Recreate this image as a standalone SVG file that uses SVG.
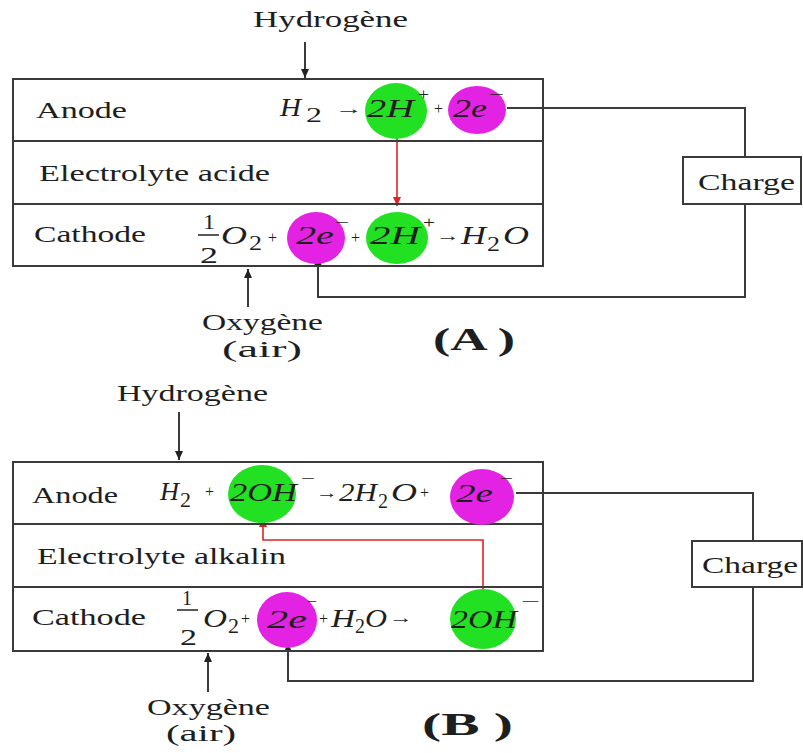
<svg xmlns="http://www.w3.org/2000/svg" width="803" height="753" viewBox="0 0 803 753">
<style>
text{font-family:"Liberation Serif","Times New Roman",serif;fill:#1e1e1e}
.l{font-size:24px}
.m{font-size:26px;font-style:italic}
.s{font-size:20px}
.o{font-size:16px}
.b{font-size:32px;font-weight:bold}
.box{fill:none;stroke:#3a3a3a;stroke-width:2}
.w{fill:none;stroke:#3a3a3a;stroke-width:2}
.r{fill:none;stroke:#e02424;stroke-width:1.6}
.g{fill:#22e022}
.p{fill:#e322e3}
.ch{fill:#fff;stroke:#3a3a3a;stroke-width:2}
</style>
<defs>
<marker id="ak" markerUnits="userSpaceOnUse" markerWidth="9" markerHeight="8" refX="9" refY="4" orient="auto"><path d="M0,0L9,4L0,8z" fill="#222"/></marker>
<marker id="ar" markerUnits="userSpaceOnUse" markerWidth="9" markerHeight="8" refX="9" refY="4" orient="auto"><path d="M0,0L9,4L0,8z" fill="#e02424"/></marker>
</defs>

<g id="connectors">
<path class="w" d="M305,42V78" marker-end="url(#ak)"/>
<path class="w" d="M248,307V269" marker-end="url(#ak)"/>
<path class="w" d="M507,108H745V297H318V257" marker-end="url(#ak)"/>
<path class="r" d="M397,137V206" marker-end="url(#ar)"/>
<path class="w" d="M179,412V460" marker-end="url(#ak)"/>
<path class="w" d="M208,692V653" marker-end="url(#ak)"/>
<path class="w" d="M516,493H753V681H288V643" marker-end="url(#ak)"/>
<path class="r" d="M483,590V540H263V518" marker-end="url(#ar)"/>
</g>

<g id="cellA">
<rect class="box" x="13" y="79" width="530" height="187"/>
<path class="box" d="M13,141H543M13,204H543"/>
<text class="l" x="36" y="118" textLength="91" lengthAdjust="spacingAndGlyphs">Anode</text>
<text class="l" x="39" y="181" textLength="231" lengthAdjust="spacingAndGlyphs">Electrolyte acide</text>
<text class="l" x="34" y="242" textLength="112" lengthAdjust="spacingAndGlyphs">Cathode</text>
</g>

<g id="anodeA">
<ellipse class="g" cx="396" cy="111" rx="31" ry="28"/>
<ellipse class="p" cx="477" cy="110" rx="29" ry="24"/>
<text class="m" x="280" y="116" textLength="21" lengthAdjust="spacingAndGlyphs">H</text>
<text class="s" x="306" y="122" textLength="16" lengthAdjust="spacingAndGlyphs">2</text>
<text class="o" x="335" y="114" textLength="28" lengthAdjust="spacingAndGlyphs">→</text>
<text class="m" x="367" y="117" textLength="47" lengthAdjust="spacingAndGlyphs">2H</text>
<text class="o" x="418" y="100" textLength="11" lengthAdjust="spacingAndGlyphs">+</text>
<text class="o" x="434" y="114" textLength="9" lengthAdjust="spacingAndGlyphs">+</text>
<text class="m" x="453" y="117" textLength="34" lengthAdjust="spacingAndGlyphs">2e</text>
<text class="o" x="489" y="100" textLength="15" lengthAdjust="spacingAndGlyphs">−</text>
</g>

<g id="cathodeA">
<ellipse class="p" cx="316" cy="238" rx="29" ry="26"/>
<ellipse class="g" cx="397" cy="238" rx="31" ry="26"/>
<text class="s" x="203" y="229" textLength="12" lengthAdjust="spacingAndGlyphs">1</text>
<path d="M198,235H219" stroke="#222" stroke-width="1.5"/>
<text class="l" x="200" y="263" textLength="18" lengthAdjust="spacingAndGlyphs">2</text>
<text class="m" x="221" y="244" textLength="26" lengthAdjust="spacingAndGlyphs">O</text>
<text class="s" x="249" y="250" textLength="13" lengthAdjust="spacingAndGlyphs">2</text>
<text class="o" x="268" y="243" textLength="9" lengthAdjust="spacingAndGlyphs">+</text>
<text class="m" x="296" y="244" textLength="38" lengthAdjust="spacingAndGlyphs">2e</text>
<text class="o" x="335" y="228" textLength="14" lengthAdjust="spacingAndGlyphs">−</text>
<text class="o" x="351" y="243" textLength="9" lengthAdjust="spacingAndGlyphs">+</text>
<text class="m" x="370" y="244" textLength="50" lengthAdjust="spacingAndGlyphs">2H</text>
<text class="o" x="423" y="228" textLength="12" lengthAdjust="spacingAndGlyphs">+</text>
<text class="o" x="436" y="241" textLength="24" lengthAdjust="spacingAndGlyphs">→</text>
<text class="m" x="461" y="244" textLength="25" lengthAdjust="spacingAndGlyphs">H</text>
<text class="s" x="487" y="251" textLength="13" lengthAdjust="spacingAndGlyphs">2</text>
<text class="m" x="503" y="244" textLength="26" lengthAdjust="spacingAndGlyphs">O</text>
</g>

<g id="chargeA">
<rect class="ch" x="683" y="157" width="118" height="47"/>
<text class="l" x="698" y="190" textLength="97" lengthAdjust="spacingAndGlyphs">Charge</text>
</g>

<g id="labelsA">
<text class="l" x="253" y="27" textLength="155" lengthAdjust="spacingAndGlyphs">Hydrogène</text>
<text class="l" x="202" y="330" textLength="121" lengthAdjust="spacingAndGlyphs">Oxygène</text>
<text class="l" x="222" y="357" textLength="80" lengthAdjust="spacingAndGlyphs">(air)</text>
<text class="b" x="433" y="350" textLength="82" lengthAdjust="spacingAndGlyphs">(A )</text>
</g>

<g id="cellB">
<rect class="box" x="13" y="462" width="530" height="189"/>
<path class="box" d="M13,524H543M13,587H543"/>
<text class="l" x="32" y="503" textLength="86" lengthAdjust="spacingAndGlyphs">Anode</text>
<text class="l" x="37" y="564" textLength="249" lengthAdjust="spacingAndGlyphs">Electrolyte alkalin</text>
<text class="l" x="32" y="625" textLength="114" lengthAdjust="spacingAndGlyphs">Cathode</text>
</g>

<g id="anodeB">
<ellipse class="g" cx="262" cy="494" rx="34" ry="29"/>
<ellipse class="p" cx="482" cy="497" rx="32" ry="28"/>
<text class="m" x="160" y="500" textLength="19" lengthAdjust="spacingAndGlyphs">H</text>
<text class="s" x="180" y="507" textLength="11" lengthAdjust="spacingAndGlyphs">2</text>
<text class="o" x="205" y="497" textLength="9" lengthAdjust="spacingAndGlyphs">+</text>
<text class="m" x="230" y="501" textLength="67" lengthAdjust="spacingAndGlyphs">2OH</text>
<text class="o" x="301" y="484" textLength="14" lengthAdjust="spacingAndGlyphs">−</text>
<text class="o" x="316" y="498" textLength="22" lengthAdjust="spacingAndGlyphs">→</text>
<text class="m" x="339" y="501" textLength="38" lengthAdjust="spacingAndGlyphs">2H</text>
<text class="s" x="378" y="508" textLength="10" lengthAdjust="spacingAndGlyphs">2</text>
<text class="m" x="391" y="501" textLength="26" lengthAdjust="spacingAndGlyphs">O</text>
<text class="o" x="420" y="498" textLength="9" lengthAdjust="spacingAndGlyphs">+</text>
<text class="m" x="456" y="502" textLength="37" lengthAdjust="spacingAndGlyphs">2e</text>
<text class="o" x="500" y="484" textLength="13" lengthAdjust="spacingAndGlyphs">−</text>
</g>

<g id="cathodeB">
<ellipse class="p" cx="287" cy="620" rx="30" ry="28"/>
<ellipse class="g" cx="483" cy="619" rx="33" ry="30"/>
<text class="s" x="182" y="605" textLength="10" lengthAdjust="spacingAndGlyphs">1</text>
<path d="M177,610H198" stroke="#222" stroke-width="1.5"/>
<text class="l" x="180" y="645" textLength="17" lengthAdjust="spacingAndGlyphs">2</text>
<text class="m" x="203" y="627" textLength="24" lengthAdjust="spacingAndGlyphs">O</text>
<text class="s" x="228" y="633" textLength="11" lengthAdjust="spacingAndGlyphs">2</text>
<text class="o" x="241" y="624" textLength="9" lengthAdjust="spacingAndGlyphs">+</text>
<text class="m" x="267" y="628" textLength="40" lengthAdjust="spacingAndGlyphs">2e</text>
<text class="o" x="307" y="607" textLength="10" lengthAdjust="spacingAndGlyphs">−</text>
<text class="o" x="319" y="624" textLength="9" lengthAdjust="spacingAndGlyphs">+</text>
<text class="m" x="331" y="627" textLength="24" lengthAdjust="spacingAndGlyphs">H</text>
<text class="s" x="355" y="633" textLength="10" lengthAdjust="spacingAndGlyphs">2</text>
<text class="m" x="365" y="627" textLength="22" lengthAdjust="spacingAndGlyphs">O</text>
<text class="o" x="389" y="623" textLength="24" lengthAdjust="spacingAndGlyphs">→</text>
<text class="m" x="451" y="628" textLength="66" lengthAdjust="spacingAndGlyphs">2OH</text>
<text class="o" x="521" y="607" textLength="19" lengthAdjust="spacingAndGlyphs">−</text>
</g>

<g id="chargeB">
<rect class="ch" x="692" y="541" width="110" height="46"/>
<text class="l" x="702" y="573" textLength="96" lengthAdjust="spacingAndGlyphs">Charge</text>
</g>

<g id="labelsB">
<text class="l" x="117" y="401" textLength="151" lengthAdjust="spacingAndGlyphs">Hydrogène</text>
<text class="l" x="147" y="715" textLength="123" lengthAdjust="spacingAndGlyphs">Oxygène</text>
<text class="l" x="166" y="741" textLength="70" lengthAdjust="spacingAndGlyphs">(air)</text>
<text class="b" x="422" y="735" textLength="91" lengthAdjust="spacingAndGlyphs">(B )</text>
</g>
</svg>
